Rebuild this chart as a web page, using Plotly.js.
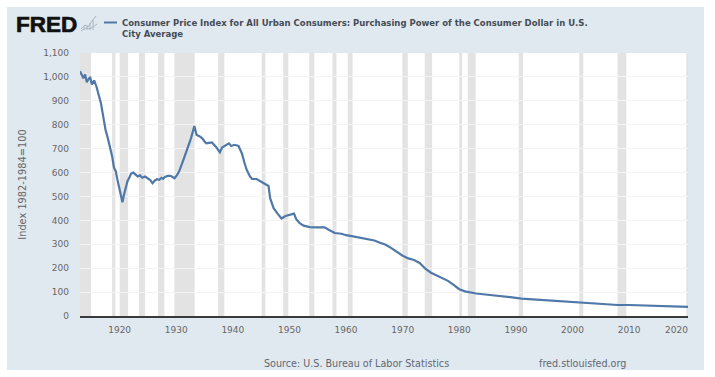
<!DOCTYPE html>
<html>
<head>
<meta charset="utf-8">
<script src="https://cdn.plot.ly/plotly-3.0.1.min.js"></script>
<style>
html,body{margin:0;padding:0;background:#fff;width:715px;height:377px;overflow:hidden}
#chart{position:absolute;left:7px;top:7px;width:697px;height:363px}
g.annotation[data-index="0"] text{stroke:#111;stroke-width:.7px}
</style>
</head>
<body>
<div id="chart"></div>
<script>
var years = [1913.0,1913.3,1913.6,1913.9,1914.2,1914.5,1914.8,1915.1,1915.5,1915.9,1916.3,1916.7,1917.1,1917.5,1917.9,1918.3,1918.7,1919.0,1919.3,1919.7,1920.0,1920.3,1920.5,1920.8,1921.1,1921.4,1921.7,1922.0,1922.4,1922.8,1923.2,1923.6,1924.0,1924.5,1925.0,1925.4,1925.8,1926.2,1926.6,1927.0,1927.4,1927.7,1928.0,1928.5,1929.0,1929.4,1929.7,1930.1,1930.5,1931.3,1931.9,1932.6,1933.2,1933.6,1934.1,1934.6,1935.0,1935.3,1935.8,1936.3,1937.0,1937.7,1938.1,1938.7,1939.3,1939.7,1940.3,1941.0,1941.6,1942.0,1942.4,1943.0,1943.4,1944.2,1945.2,1946.0,1946.3,1946.6,1946.9,1947.2,1947.9,1948.6,1949.3,1950.2,1950.8,1951.2,1951.8,1952.5,1953.6,1955.0,1956.2,1957.0,1958.0,1959.2,1960.0,1961.0,1962.0,1963.0,1964.0,1965.0,1966.0,1967.0,1968.0,1969.0,1970.0,1971.0,1972.0,1973.0,1974.0,1975.0,1976.0,1977.0,1978.0,1979.0,1980.0,1981.0,1982.0,1983.0,1985.0,1987.0,1989.0,1991.0,1994.0,1997.0,2000.0,2003.0,2006.0,2008.0,2010.0,2013.0,2016.0,2018.0,2020.4];
var purchasingPower = [1024,1012,994,1010,978,990,1000,968,985,960,925,890,835,780,745,705,665,620,607,560,525,495,476,510,545,565,578,595,600,593,584,588,578,583,574,569,555,566,572,570,578,574,582,586,586,580,576,588,604,655,695,743,795,757,752,743,730,722,724,726,708,685,705,712,722,711,716,711,680,645,614,585,573,573,558,548,544,492,470,451,428,408,418,423,428,405,388,378,372,371,371,360,347,344,338,334,330,326,322,316,306,298,284,268,252,241,234,222,198,181,170,160,147,130,112,103,98,94,89,85,79,73,68,64,58,54,50,46,46,43,42,41,38];
var recessionStart = [1913.0,1918.67,1920.0,1923.4,1926.8,1929.67,1937.4,1945.1,1948.9,1953.5,1957.6,1960.3,1969.95,1973.9,1980.0,1981.5,1990.5,2001.2,2007.95,2020.1];
var recessionEnd   = [1914.95,1919.25,1921.5,1924.5,1927.9,1933.25,1938.5,1945.75,1949.8,1954.4,1958.3,1961.15,1970.9,1975.2,1980.5,1982.9,1991.25,2001.9,2009.5,2020.4];
var xTickVals = [1920,1930,1940,1950,1960,1970,1980,1990,2000,2010];
var xTickText = ['1920','1930','1940','1950','1960','1970','1980','1990','2000','2010'];
var lastTickYear = 2020;
var yTickVals = [0,100,200,300,400,500,600,700,800,900,1000,1100];
var seriesName = 'Consumer Price Index for All Urban Consumers: Purchasing Power of the Consumer Dollar in U.S.<br>City Average';

var W = 697, H = 363, mL = 73, mR = 16, mT = 46, mB = 54;
var pw = W - mL - mR, ph = H - mT - mB;
function px(x){ return (x - 7 - mL) / pw; }
function py(y){ return 1 - (y - 7 - mT) / ph; }

var shapes = recessionStart.map(function(s, i){
  return {type:'rect', xref:'x', yref:'paper', x0:s, x1:recessionEnd[i], y0:0, y1:1,
          fillcolor:'#e3e3e3', line:{width:0}, layer:'between'};
});
// legend key
shapes.push({type:'line', xref:'paper', yref:'paper', x0:px(104), x1:px(117), y0:py(22.5), y1:py(22.5),
             line:{color:'#4f78a8', width:2}});
// small logo glyph
['M 81 29 L 85 25 L 88 27 L 92 21 L 96 16', 'M 81 31 L 86 28 L 90 29 L 97 24',
 'M 84 30 L 84 26 M 87 30 L 87 25 M 90 30 L 90 23 M 93 30 L 93 20'].forEach(function(d){
  var path = d.replace(/(\d+) (\d+)/g, function(m, a, b){ return px(+a) + ',' + py(+b); });
  shapes.push({type:'path', xref:'paper', yref:'paper', path:path, line:{color:'#aab6c2', width:1}});
});

var annotations = [
  {text:'<b>FRED</b>', xref:'paper', yref:'paper', x:px(14), y:py(24), xanchor:'left', yanchor:'middle', showarrow:false,
   font:{family:'Liberation Sans', size:22.5, color:'#111'}},
  {text:seriesName, xref:'paper', yref:'paper', x:px(120), y:py(28.5), xanchor:'left', yanchor:'middle', align:'left', showarrow:false,
   font:{family:'DejaVu Sans', size:8.5, color:'#444c56', weight:700}},
  {text:'Source: U.S. Bureau of Labor Statistics', xref:'paper', yref:'paper', x:px(262), y:py(363), xanchor:'left', yanchor:'middle', showarrow:false,
   font:{family:'DejaVu Sans', size:9.6, color:'#5f6870'}},
  {text:'fred.stlouisfed.org', xref:'paper', yref:'paper', x:px(537), y:py(363), xanchor:'left', yanchor:'middle', showarrow:false,
   font:{family:'DejaVu Sans', size:9.6, color:'#5f6870'}},
  {text:String(lastTickYear), xref:'x', yref:'paper', x:lastTickYear, y:py(329.5), xanchor:'center', yanchor:'middle', xshift:-9, showarrow:false,
   font:{family:'DejaVu Sans', size:9, color:'#666'}}
];

var trace = {type:'scatter', mode:'lines', name:seriesName, x:years, y:purchasingPower,
             line:{color:'#4f78a8', width:2.2}, hoverinfo:'x+y'};

var layout = {
  width:W, height:H, showlegend:false,
  paper_bgcolor:'#e1e9f0', plot_bgcolor:'#ffffff',
  margin:{l:mL, r:mR, t:mT, b:mB, pad:0},
  font:{family:'DejaVu Sans', size:9, color:'#666'},
  xaxis:{range:[1913.0,2020.4], tickmode:'array', tickvals:xTickVals, ticktext:xTickText, showgrid:false, zeroline:false,
         showline:true, linecolor:'#3a3a3a', linewidth:2, ticks:'', tickfont:{size:9,color:'#666'}, ticklabelstandoff:4},
  yaxis:{range:[0,1100], tickmode:'array', tickvals:yTickVals, tickformat:',d', showgrid:true, gridcolor:'#f3f3f3', gridwidth:1,
         zeroline:false, showline:false, ticks:'', tickfont:{size:9,color:'#666'}, ticklabelstandoff:10,
         title:{text:'Index 1982-1984=100', font:{size:9.8,color:'#666'}, standoff:14}},
  shapes:shapes, annotations:annotations
};
Plotly.newPlot('chart', [trace], layout, {displayModeBar:false, staticPlot:true});
</script>
</body>
</html>
